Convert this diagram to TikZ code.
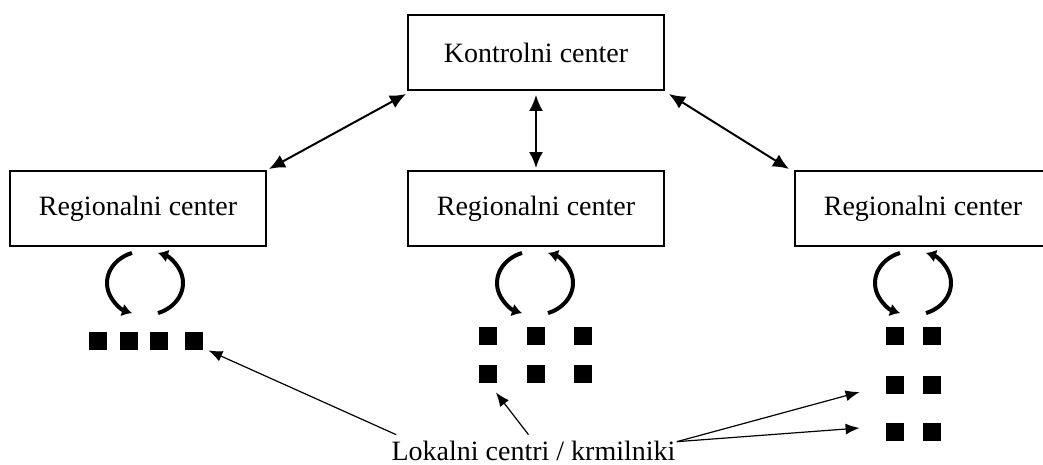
\documentclass[tikz,border=0pt]{standalone}
\usepackage{fontspec}
\setmainfont{Liberation Serif}
\usetikzlibrary{arrows.meta}

\begin{document}
\begin{tikzpicture}[x=0.5pt,y=-0.5pt,>=Latex,
    box/.style={draw,line width=1pt,minimum width=128pt,minimum height=37.5pt,
      font=\fontsize{14}{17}\selectfont},
    unit/.style={fill=black,minimum size=9pt,inner sep=0pt},
    link/.style={line width=1pt,{Latex[length=8pt,width=7pt]}-{Latex[length=8pt,width=7pt]}},
    cycle/.style={line width=2pt,-{Latex[length=5pt,width=6.5pt]}},
    hint/.style={line width=0.6pt,-{Latex[length=7pt,width=5.5pt]}}]
  \useasboundingbox (0,0) rectangle (1043,465);

  \node[box] (KC) at (536,52.5) {Kontrolni center};
  \node[box] (RC1) at (138,208.5) {Regionalni center};
  \node[box] (RC2) at (536,208.5) {Regionalni center};
  \node[box] (RC3) at (923,208.5) {Regionalni center};

  \draw[link] ([shift={(2,-1)}]RC1.north east) -- ([shift={(-1,3)}]KC.south west);
  \draw[link] ([yshift=-2pt]KC.south) -- ([yshift=1pt]RC2.north);
  \draw[link] ([shift={(4,3)}]KC.south east) -- ([shift={(-5,-1)}]RC3.north west);

  % exchange between regional centre and its local units
  \foreach \cx in {145,535,913} {
    \draw[cycle] ([shift={(250:38 and 32)}]\cx,283)
      arc[start angle=250,end angle=110,x radius=38,y radius=32];
    \draw[cycle] ([shift={(70:38 and 32)}]\cx,283)
      arc[start angle=70,end angle=-70,x radius=38,y radius=32];
  }

  % local units
  \node[unit] (L1) at (97.5,341) {};
  \node[unit] (L2) at (129,341) {};
  \node[unit] (L3) at (159,341) {};
  \node[unit] (L4) at (194,341) {};
  \foreach \c/\x in {1/487.5,2/536,3/583} {
    \node[unit] (M1\c) at (\x,336) {};
    \node[unit] (M2\c) at (\x,374) {};
  }
  \foreach \c/\x in {1/895,2/932} {
    \node[unit] (R1\c) at (\x,336) {};
    \node[unit] (R2\c) at (\x,385) {};
    \node[unit] (R3\c) at (\x,432) {};
  }

  \node[font=\fontsize{14}{17}\selectfont,inner sep=2pt,anchor=base] (LC) at (533.5,460.5)
    {Lokalni centri / krmilniki};

  \draw[hint] ([shift={(9,-2)}]LC.north west) -- ([shift={(5,0)}]L4.south east);
  \draw[hint] ([shift={(-5,-2)}]LC.north) -- ([shift={(-1,9)}]M21.south east);
  \draw[hint] ([shift={(-3,5)}]LC.north east) -- ([shift={(-26,7)}]R21.west);
  \draw[hint] ([shift={(-3,5)}]LC.north east) -- ([shift={(-26,-4)}]R31.west);
\end{tikzpicture}
\end{document}
